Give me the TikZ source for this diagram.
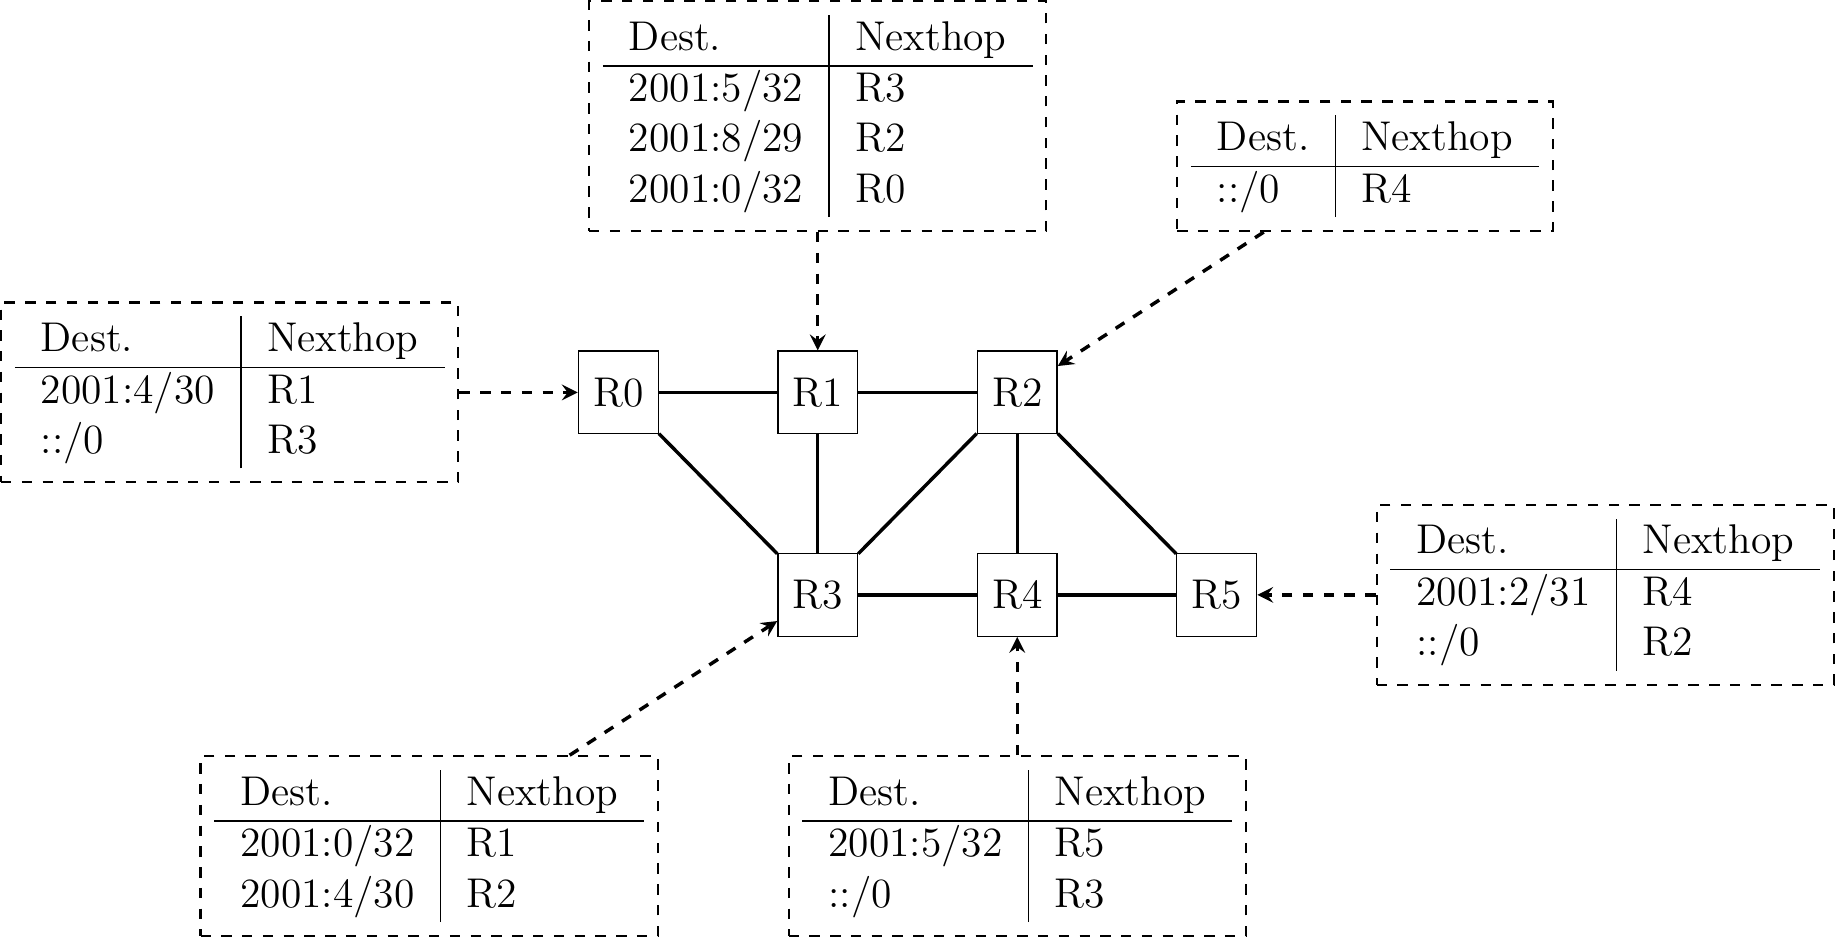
\documentclass[tikz,border=0pt,12pt]{standalone}
\usepackage{amsmath}
\usepackage{tikz}
\usetikzlibrary{positioning,arrows}
\setlength{\tabcolsep}{7.5pt}

\begin{document}
\begin{tikzpicture}[node distance=1.2cm and 1.2cm,
                    router/.style={rectangle, draw, minimum width=0.81cm, minimum height=0.84cm},
                    rtable/.style={rectangle, draw, semithick, dashed},
                    link/.style={line width=1pt},
                    lookup/.style={line width=1pt, dashed, -stealth}]
                    \node[router] (R0) {R0};
                    \node[router, right=of R0] (R1) {R1};
                    \node[router, right=of R1] (R2) {R2};
                    \node[router, below=of R1] (R3) {R3};
                    \node[router, right=of R3] (R4) {R4};
                    \node[router, right=of R4] (R5) {R5};
                    \draw[link] (R0) -- (R1);
                    \draw[link] (R1) -- (R2);
                    \draw[link] (R0) -- (R3);
                    \draw[link] (R1) -- (R3);
                    \draw[link] (R2) -- (R3);
                    \draw[link] (R2) -- (R4);
                    \draw[link] (R2) -- (R5);
                    \draw[link] (R3) -- (R4);
                    \draw[link] (R4) -- (R5);
                    % routing tables
                    \node[rtable, left=of R0] (T0) {\begin{tabular}{l|l}
                        Dest. & Nexthop \\ \hline
                        2001:4/30 & R1 \\
                        ::/0 & R3
                    \end{tabular}};
                    \node[rtable, above=of R1] (T1) {\begin{tabular}{l|l}
                        Dest. & Nexthop \\ \hline
                        2001:5/32 & R3 \\
                        2001:8/29 & R2 \\
                        2001:0/32 & R0
                    \end{tabular}};
                    \node[rtable, above right=of R2] (T2) {\begin{tabular}{l|l}
                        Dest. & Nexthop \\ \hline
                        ::/0 & R4
                    \end{tabular}};
                    \node[rtable, below left=of R3] (T3) {\begin{tabular}{l|l}
                        Dest. & Nexthop \\ \hline
                        2001:0/32 & R1 \\
                        2001:4/30 & R2
                    \end{tabular}};
                    \node[rtable, below=of R4] (T4) {\begin{tabular}{l|l}
                        Dest. & Nexthop \\ \hline
                        2001:5/32 & R5 \\
                        ::/0 & R3
                    \end{tabular}};
                    \node[rtable, right=of R5] (T5) {\begin{tabular}{l|l}
                        Dest. & Nexthop \\ \hline
                        2001:2/31 & R4 \\
                        ::/0 & R2
                    \end{tabular}};
                    \draw[lookup] (T0) -- (R0);
                    \draw[lookup] (T1) -- (R1);
                    \draw[lookup] (T2) -- (R2);
                    \draw[lookup] (T3) -- (R3);
                    \draw[lookup] (T4) -- (R4);
                    \draw[lookup] (T5) -- (R5);
                \end{tikzpicture}
\end{document}
